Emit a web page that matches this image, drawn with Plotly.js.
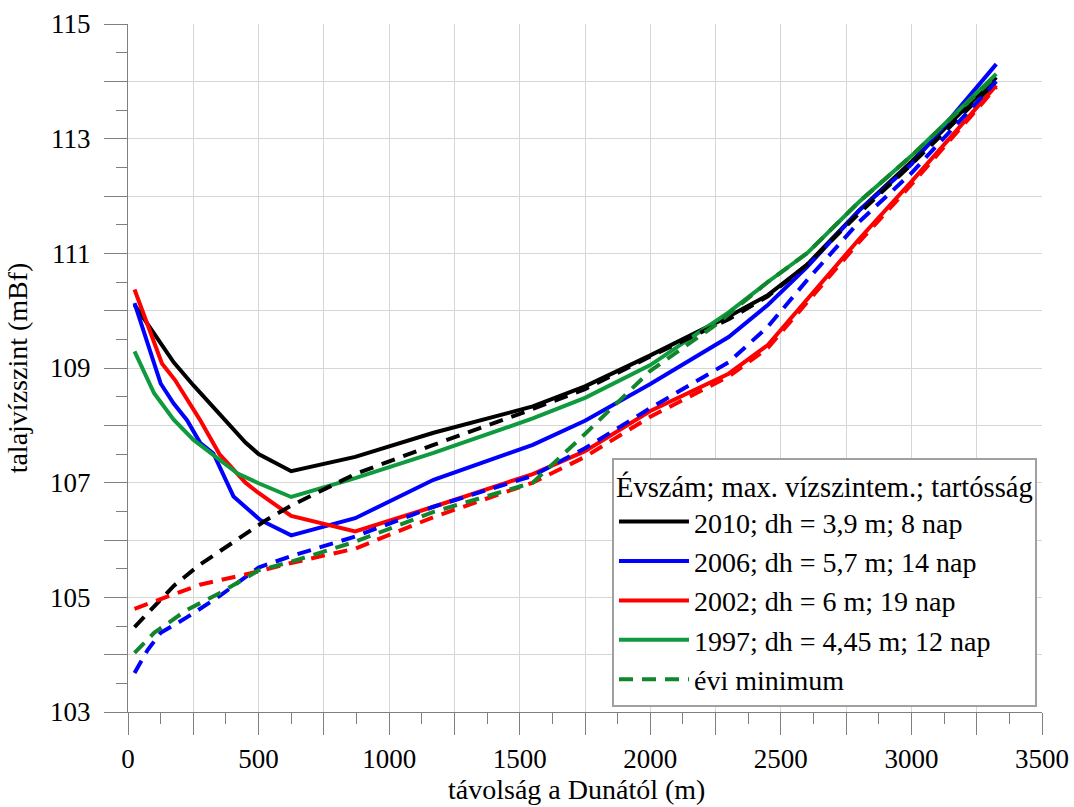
<!DOCTYPE html>
<html>
<head>
<meta charset="utf-8">
<script src="https://cdn.plot.ly/plotly-3.0.1.min.js"></script>
<style>html,body{margin:0;padding:0;background:#fff;}</style>
</head>
<body>
<div id="chart" style="width:1074px;height:807px;"></div>
<script>
// ---- data (distance from the Danube in m, groundwater level in mBf) ----
const dist2010 = [25, 130, 175, 250, 350, 450, 500, 625, 870, 1170, 1550, 1750, 2000, 2300, 2450, 2600, 2800, 3000, 3325];
const max2010  = [110.1, 109.4, 109.1, 108.7, 108.2, 107.7, 107.5, 107.2, 107.45, 107.87, 108.33, 108.68, 109.22, 109.9, 110.27, 110.8, 111.75, 112.6, 114.07];

const dist2006 = [25, 125, 175, 226, 277, 327, 404, 506, 625, 870, 1170, 1550, 1750, 2000, 2300, 2450, 2600, 2800, 3000, 3325];
const max2006  = [110.13, 108.73, 108.38, 108.09, 107.69, 107.51, 106.76, 106.35, 106.08, 106.38, 107.05, 107.66, 108.08, 108.72, 109.54, 110.1, 110.76, 111.75, 112.55, 114.3];

const dist2002 = [25, 130, 180, 275, 350, 450, 500, 625, 870, 1170, 1550, 1750, 2000, 2300, 2450, 2600, 2800, 3000, 3325];
const max2002  = [110.37, 109.08, 108.79, 108.1, 107.5, 107.0, 106.82, 106.42, 106.15, 106.58, 107.15, 107.55, 108.25, 108.9, 109.4, 110.2, 111.25, 112.25, 113.93];

const dist1997 = [25, 100, 175, 250, 420, 500, 625, 870, 1170, 1550, 1750, 2000, 2300, 2450, 2600, 2800, 3000, 3325];
const max1997  = [109.29, 108.56, 108.1, 107.75, 107.16, 106.99, 106.75, 107.08, 107.52, 108.12, 108.48, 109.05, 109.97, 110.5, 111.0, 111.9, 112.7, 114.13];

const distMin2010 = [25, 90, 175, 275, 375, 450, 530, 625, 870, 1170, 1500, 1750, 2000, 2300, 2450, 2600, 2800, 3000, 3325];
const min2010     = [104.48, 104.8, 105.2, 105.57, 105.88, 106.1, 106.35, 106.6, 107.15, 107.66, 108.2, 108.63, 109.2, 109.85, 110.25, 110.8, 111.7, 112.55, 114.0];

const distMin2006 = [25, 75, 125, 225, 350, 500, 625, 870, 1170, 1550, 1750, 2000, 2300, 2450, 2600, 2800, 3000, 3325];
const min2006     = [103.68, 104.08, 104.38, 104.65, 105.02, 105.52, 105.72, 106.06, 106.58, 107.12, 107.6, 108.3, 109.1, 109.72, 110.53, 111.55, 112.4, 114.0];

const distMin2002 = [25, 125, 275, 470, 625, 870, 1170, 1550, 1750, 2000, 2300, 2450, 2600, 2800, 3000, 3325];
const min2002     = [104.8, 104.97, 105.22, 105.42, 105.6, 105.85, 106.4, 107.0, 107.45, 108.15, 108.85, 109.35, 110.15, 111.2, 112.2, 113.9];

const distMin1997 = [25, 100, 225, 350, 500, 625, 870, 1170, 1550, 1750, 2000, 2250, 2450, 2600, 2800, 3000, 3325];
const min1997     = [104.03, 104.38, 104.78, 105.07, 105.47, 105.62, 105.97, 106.49, 107.0, 107.85, 108.95, 109.75, 110.5, 111.0, 111.9, 112.7, 114.1];

const seriesNames = ['2010; dh = 3,9 m; 8 nap', '2006; dh = 5,7 m; 14 nap', '2002; dh = 6 m; 19 nap', '1997; dh = 4,45 m; 12 nap'];
const minName = 'évi minimum';
const legendTitle = 'Évszám; max. vízszintem.; tartósság';
const xTitle = 'távolság a Dunától (m)';
const yTitle = 'talajvízszint (mBf)';

const xTickVals = [0, 250, 500, 750, 1000, 1250, 1500, 1750, 2000, 2250, 2500, 2750, 3000, 3250, 3500];
const xTickText = ['0', '', '500', '', '1000', '', '1500', '', '2000', '', '2500', '', '3000', '', '3500'];
const yTickVals = [103, 104, 105, 106, 107, 108, 109, 110, 111, 112, 113, 114, 115];
const yTickText = ['103', '', '105', '', '107', '', '109', '', '111', '', '113', '', '115'];

// ---- styles ----
const cBlack = '#000000', cBlue = '#0000ff', cRed = '#ff0000', cGreen = '#0f9a3e', cGreenD = '#12862c';
const LW = 4;
const DASH = '14px,9px';
const FONT = '"Liberation Serif", "Times New Roman", serif';

const traces = [
  {x: dist2010, y: max2010, name: seriesNames[0], mode: 'lines', line: {color: cBlack, width: LW}},
  {x: dist2006, y: max2006, name: seriesNames[1], mode: 'lines', line: {color: cBlue, width: LW}},
  {x: dist2002, y: max2002, name: seriesNames[2], mode: 'lines', line: {color: cRed, width: LW}},
  {x: dist1997, y: max1997, name: seriesNames[3], mode: 'lines', line: {color: cGreen, width: LW}},
  {x: distMin2010, y: min2010, name: minName, mode: 'lines', showlegend: false, line: {color: cBlack, width: LW, dash: DASH}},
  {x: distMin2006, y: min2006, name: minName, mode: 'lines', showlegend: false, line: {color: cBlue, width: LW, dash: DASH}},
  {x: distMin2002, y: min2002, name: minName, mode: 'lines', showlegend: false, line: {color: cRed, width: LW, dash: DASH}},
  {x: distMin1997, y: min1997, name: minName, mode: 'lines', showlegend: true, line: {color: cGreenD, width: LW, dash: DASH}}
];

const axisCommon = {
  tickmode: 'array', ticks: 'outside', tickcolor: '#808080', tickwidth: 1,
  showgrid: true, gridcolor: '#d6d6d6', gridwidth: 1,
  showline: true, linecolor: '#808080', linewidth: 1, zeroline: false,
  tickfont: {family: FONT, size: 27, color: '#000'}
};

const layout = {
  width: 1074, height: 807,
  margin: {l: 128, r: 31.5, t: 23.5, b: 94.7, pad: 0},
  paper_bgcolor: '#ffffff', plot_bgcolor: '#ffffff',
  font: {family: FONT, color: '#000', size: 27},
  showlegend: true,
  legend: {
    x: 0.9945, xanchor: 'right', y: 0.0077, yanchor: 'bottom',
    bgcolor: '#ffffff', bordercolor: '#a0a0a0', borderwidth: 2,
    font: {family: FONT, size: 28, color: '#000'},
    title: {text: legendTitle, font: {family: FONT, size: 28.6, color: '#000'}},
    itemwidth: 70, tracegroupgap: 0
  },
  xaxis: Object.assign({}, axisCommon, {
    range: [0, 3500], tickvals: xTickVals, ticktext: xTickText, ticklen: 22,
    ticklabelstandoff: 1,
    minor: {tickmode: 'linear', tick0: 0, dtick: 125, ticks: 'outside', ticklen: 11, tickcolor: '#808080', tickwidth: 1, showgrid: false}
  }),
  yaxis: Object.assign({}, axisCommon, {
    range: [103, 115], tickvals: yTickVals, ticktext: yTickText, ticklen: 23,
    ticklabelstandoff: 8,
    minor: {tickmode: 'linear', tick0: 103, dtick: 0.5, ticks: 'outside', ticklen: 11, tickcolor: '#808080', tickwidth: 1, showgrid: false},
    title: {text: yTitle, font: {family: FONT, size: 28, color: '#000'}, standoff: 14}
  }),
  annotations: [{
    text: xTitle, xref: 'paper', yref: 'paper', x: 0.491, y: -0.1372,
    xanchor: 'center', yanchor: 'bottom', showarrow: false, borderpad: 0,
    font: {family: FONT, size: 28, color: '#000'}
  }]
};

Plotly.newPlot('chart', traces, layout, {displayModeBar: false, staticPlot: true});
</script>
</body>
</html>
